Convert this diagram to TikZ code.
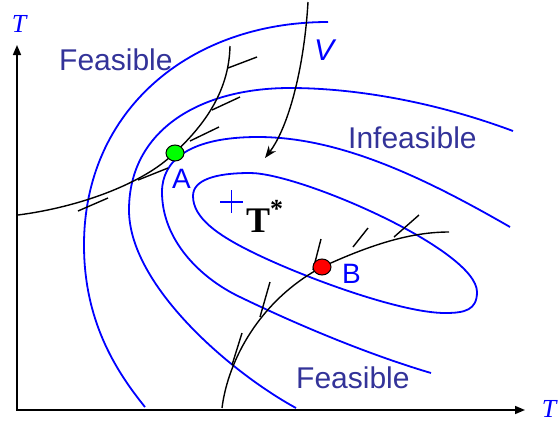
\documentclass[tikz,border=0pt]{standalone}
\usepackage{fontspec}
\setmainfont{Liberation Serif}
\newfontfamily\arialf{Liberation Sans}
\usetikzlibrary{arrows.meta,shapes.geometric}
\definecolor{regtxt}{RGB}{51,51,153}
\definecolor{pureblue}{RGB}{0,0,255}
\definecolor{dotgreen}{RGB}{0,255,0}
\definecolor{dotred}{RGB}{255,0,0}
\begin{document}
\begin{tikzpicture}[x=1pt,y=-1pt,
  contour/.style={pureblue, line width=1.8pt},
  constraint/.style={black, line width=1.4pt},
  barb/.style={black, line width=1.4pt},
  axisline/.style={black, line width=1.6pt},
  region/.style={regtxt, font=\arialf\fontsize{30}{30}\selectfont, inner sep=0pt, anchor=base west},
  ptlabel/.style={pureblue, font=\arialf\fontsize{28}{28}\selectfont, inner sep=0pt, anchor=base west},
  axislabel/.style={pureblue, font=\itshape\fontsize{26}{26}\selectfont, inner sep=0pt},
  dot/.style={draw=black, line width=1pt, ellipse, minimum width=18pt, minimum height=16pt, inner sep=0pt}
]
\useasboundingbox (0,0) rectangle (560,424);

% axes
\coordinate (O) at (17,410);
\coordinate (Ytip) at (17,45);
\coordinate (Xtip) at (525,410);
\draw[axisline, {Triangle[length=10pt,width=8pt]}-{Triangle[length=10pt,width=8pt]}] (Ytip) -- (O) -- (Xtip);
\node[axislabel] (ty) at (19,24) {T};
\node[axislabel] (tx) at (549,409) {T};

% contours
\draw[contour] (328,22) .. controls (190,22) and (84,110) .. (84,245)
                        .. controls (84,320) and (115,370) .. (145,407);
\draw[contour] (513,131) .. controls (430,100) and (350,88) .. (290,88)
                         .. controls (200,88) and (129,130) .. (129,210)
                         .. controls (129,285) and (230,372) .. (296,408);
\draw[contour] (510,227) .. controls (425,178) and (340,137) .. (258,137)
                         .. controls (190,137) and (162,160) .. (162,192)
                         .. controls (162,240) and (200,278) .. (240,297)
                         .. controls (300,326) and (370,355) .. (431,373);
\draw[contour] (193,196) .. controls (193,180) and (215,173) .. (250,173)
                         .. controls (300,173) and (477,250) .. (477,292)
                         .. controls (477,310) and (465,313) .. (445,313)
                         .. controls (400,313) and (300,276) .. (250,251)
                         .. controls (218,235) and (193,218) .. (193,196) -- cycle;

% optimum marker
\draw[pureblue, line width=1.2pt] (220,202) -- (243,202) (231.5,190) -- (231.5,213);
\node[anchor=base west, inner sep=0pt] (Tstar) at (246,232) {\fontsize{36}{36}\selectfont\textbf{T}\raisebox{15pt}{\fontsize{26}{26}\selectfont\textbf{*}}};

% constraint through A
\draw[constraint] (230,46) .. controls (229,95) and (200,130) .. (170,157)
                           .. controls (140,184) and (80,207) .. (18,215);
\draw[barb] (228,68) -- (257,57);
\draw[barb] (212,110) -- (240,97);
\draw[barb] (190,141) -- (219,127);
\draw[barb] (138,180) -- (168,168);
\draw[barb] (78,211) -- (108,198);

% constraint through B
\draw[constraint] (222,408) .. controls (228,360) and (260,300) .. (322,267)
                            .. controls (370,245) and (410,232) .. (449,232);
\draw[barb] (232,365) -- (242,333);
\draw[barb] (260,317) -- (270,282);
\draw[barb] (313,270) -- (321,239);
\draw[barb] (353,247) -- (368,228);
\draw[barb] (394,237) -- (419,215);

% V arrow
\draw[constraint, -{Stealth[length=12pt,width=9pt]}] (308,2) .. controls (304,70) and (288,128) .. (265,158);
\node[pureblue, font=\arialf\itshape\fontsize{30}{30}\selectfont, inner sep=0pt, anchor=base west] (labV) at (314,60) {V};

% points
\node[dot, fill=dotgreen] (A) at (175,153) {};
\node[dot, fill=dotred] (B) at (322,267) {};
\node[ptlabel] (labA) at (172,188) {A};
\node[ptlabel] (labB) at (342,283) {B};

% region labels
\node[region] (feas1) at (59,70) {Feasible};
\node[region] (infeas) at (348,148) {Infeasible};
\node[region] (feas2) at (296,388) {Feasible};
\end{tikzpicture}
\end{document}
